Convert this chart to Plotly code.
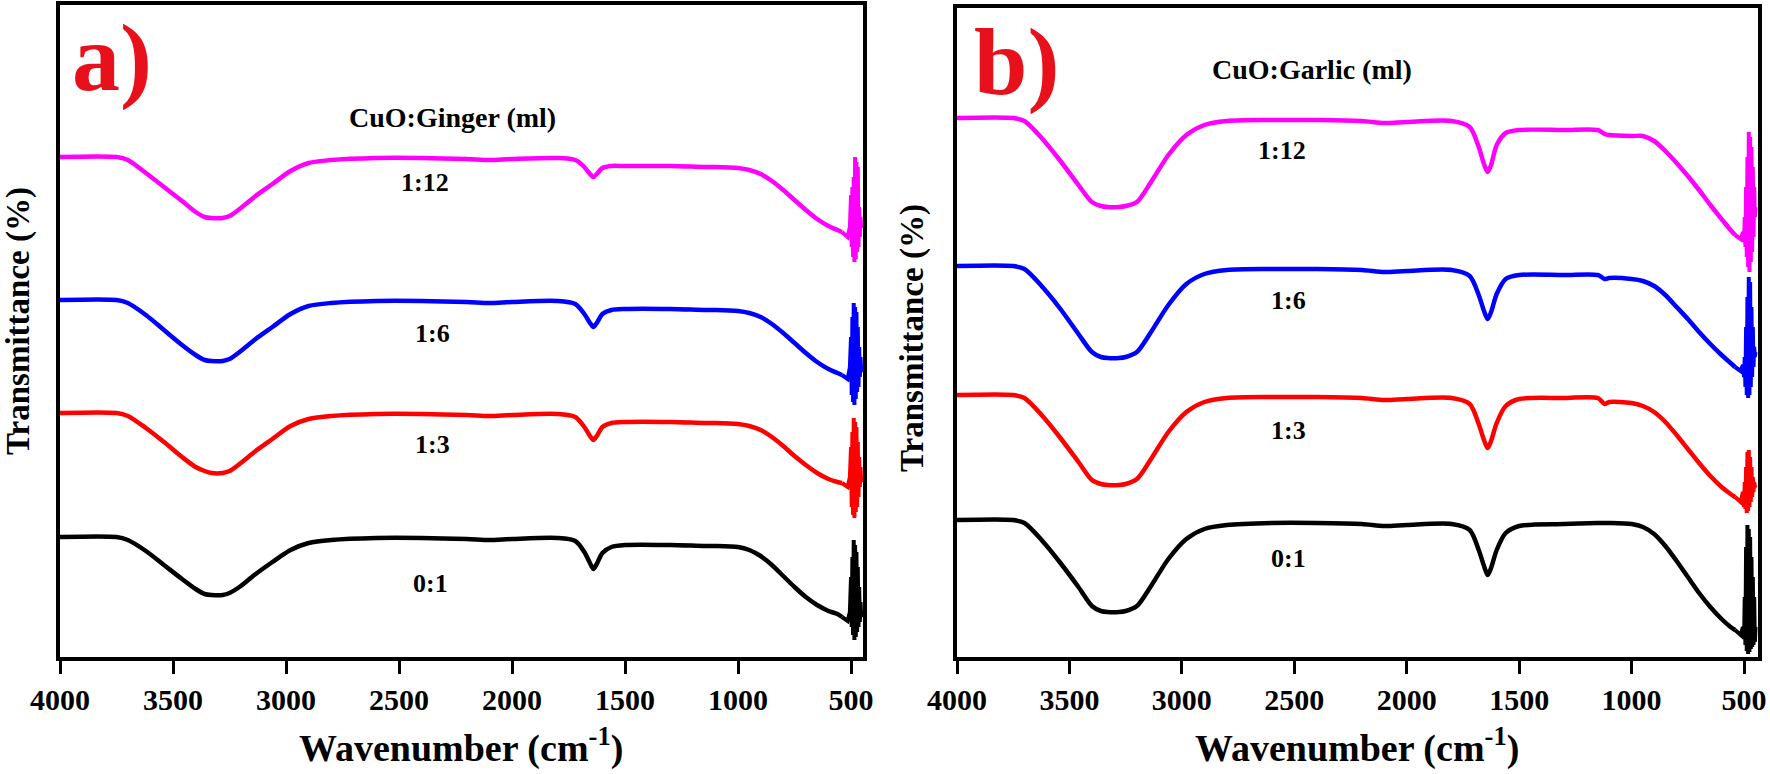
import plotly.graph_objects as go
from plotly.subplots import make_subplots

W, H = 1770, 774

# wavenumber grid (cm-1) used for the smooth part of every spectrum
WAVENUMBER = [4000, 3750, 3700, 3620, 3540, 3460, 3400, 3360, 3330, 3280, 3250, 3200,
              3140, 3060, 2980, 2900, 2800, 2600, 2400, 2200, 2100, 2000, 1800, 1720,
              1680, 1655, 1640, 1625, 1600, 1560, 1500, 1300, 1150, 1120, 1100, 1000,
              950, 900, 850, 800, 750, 700, 650, 600, 560, 540]
# noisy tail near the low-wavenumber end
WAVENUMBER_TAIL = [540, 530, 515, 505, 500, 497, 494, 491, 488, 485, 482, 479, 476, 473,
                   470, 467, 464, 461, 458, 455, 452, 449]

SERIES = ["1:12", "1:6", "1:3", "0:1"]
COLORS = ["#ff00ff", "#0000ff", "#ff0000", "#000000"]

# ---- a) CuO:Ginger (transmittance, arbitrary offset units) ----
GINGER_1_12 = [500, 500, 497, 484, 470, 456, 445, 440, 439, 439, 441, 449, 460, 473, 486,
               494, 497, 499, 499, 498, 497, 498, 499, 497, 490, 483, 480, 483, 489, 491,
               491, 491, 490, 490, 490, 489, 487, 483, 476, 467, 457, 447, 438, 431, 427, 425]
GINGER_1_6 = [357, 357, 354, 342, 327, 312, 302, 297, 296, 296, 298, 306, 317, 330, 343,
              351, 354, 356, 356, 355, 354, 355, 356, 353, 343, 334, 330, 334, 343, 347,
              348, 348, 347, 347, 347, 346, 344, 340, 333, 324, 314, 304, 295, 288, 284, 282]
GINGER_1_3 = [244, 244, 241, 229, 215, 200, 190, 186, 184, 184, 186, 194, 205, 218, 231,
              238, 241, 243, 243, 242, 241, 242, 243, 240, 230, 221, 217, 221, 230, 234,
              235, 235, 234, 234, 234, 233, 231, 227, 220, 211, 201, 192, 184, 178, 175, 174]
GINGER_0_1 = [120, 120, 117, 106, 92, 78, 68, 63, 62, 62, 64, 71, 82, 95, 107,
              114, 117, 119, 119, 118, 117, 118, 119, 116, 105, 94, 88, 93, 104, 110,
              112, 112, 111, 111, 111, 110, 107, 101, 92, 81, 70, 60, 52, 46, 43, 40]
GINGER_TAIL_1_12 = [425, 423, 420, 430, 462, 410, 470, 400, 480, 395, 500, 398, 495, 405,
                    490, 410, 450, 420, 440, 430, 432, 430]
GINGER_TAIL_1_6 = [282, 280, 278, 290, 320, 262, 340, 255, 354, 252, 350, 258, 345, 265,
                   330, 270, 310, 280, 300, 285, 290, 288]
GINGER_TAIL_1_3 = [174, 172, 170, 180, 210, 150, 225, 142, 239, 139, 235, 145, 230, 150,
                   215, 160, 200, 170, 190, 175, 180, 178]
GINGER_TAIL_0_1 = [40, 38, 36, 45, 80, 30, 100, 22, 117, 17, 112, 20, 105, 25,
                   90, 30, 70, 35, 55, 40, 45, 42]

# ---- b) CuO:Garlic ----
GARLIC_1_12 = [539, 539, 536, 518, 496, 472, 455, 451, 450, 450, 451, 455, 474, 502, 522,
               532, 536, 537, 537, 536, 534, 535, 536, 530, 510, 492, 485, 492, 512, 524,
               527, 527, 527, 523, 522, 521, 521, 516, 506, 494, 481, 467, 452, 438, 427, 422]
GARLIC_1_6 = [391, 391, 388, 370, 348, 323, 305, 300, 299, 299, 300, 305, 324, 352, 373,
              383, 387, 388, 388, 387, 385, 386, 387, 381, 362, 345, 338, 345, 363, 378,
              382, 382, 382, 378, 379, 378, 376, 371, 362, 350, 338, 325, 313, 302, 294, 290]
GARLIC_1_3 = [262, 262, 259, 241, 219, 195, 177, 173, 172, 172, 173, 178, 197, 225, 245,
              255, 259, 260, 260, 259, 257, 258, 259, 253, 233, 216, 209, 216, 234, 251,
              258, 259, 259, 253, 255, 254, 251, 245, 235, 222, 208, 194, 181, 170, 163, 160]
GARLIC_0_1 = [137, 137, 134, 116, 94, 70, 51, 46, 45, 45, 46, 51, 70, 98, 118,
              128, 132, 134, 134, 133, 131, 132, 133, 127, 107, 90, 82, 89, 107, 124,
              131, 133, 134, 134, 134, 133, 130, 123, 111, 96, 80, 64, 50, 38, 30, 27]
GARLIC_TAIL_1_12 = [422, 420, 418, 425, 415, 440, 410, 470, 400, 500, 390, 525, 385, 520,
                    395, 510, 405, 490, 420, 470, 440, 450]
GARLIC_TAIL_1_6 = [290, 288, 286, 292, 280, 300, 270, 330, 262, 360, 259, 380, 262, 375,
                   270, 350, 280, 330, 290, 310, 300, 305]
GARLIC_TAIL_1_3 = [160, 158, 155, 165, 150, 175, 148, 190, 144, 205, 146, 207, 150, 200,
                   155, 190, 160, 180, 165, 175, 170, 172]
GARLIC_TAIL_0_1 = [27, 25, 22, 30, 18, 60, 12, 110, 6, 132, 3, 128, 5, 120,
                   8, 100, 10, 80, 12, 60, 15, 30]

GINGER = [GINGER_1_12, GINGER_1_6, GINGER_1_3, GINGER_0_1]
GINGER_TAIL = [GINGER_TAIL_1_12, GINGER_TAIL_1_6, GINGER_TAIL_1_3, GINGER_TAIL_0_1]
GARLIC = [GARLIC_1_12, GARLIC_1_6, GARLIC_1_3, GARLIC_0_1]
GARLIC_TAIL = [GARLIC_TAIL_1_12, GARLIC_TAIL_1_6, GARLIC_TAIL_1_3, GARLIC_TAIL_0_1]

XTICKS = [4000, 3500, 3000, 2500, 2000, 1500, 1000, 500]

FONT = "Liberation Serif"


def px(x, y):
    # pixel position -> paper coordinates
    return x / W, 1 - y / H


def add_spectra(fig, values, tails, col):
    for name, color, ys, tail in zip(SERIES, COLORS, values, tails):
        fig.add_trace(
            go.Scatter(x=WAVENUMBER, y=ys, mode="lines", name=name,
                       line=dict(color=color, width=4.5, shape="spline", smoothing=0.8),
                       showlegend=False),
            row=1, col=col,
        )
        fig.add_trace(
            go.Scatter(x=WAVENUMBER_TAIL, y=tail, mode="lines", name=name,
                       line=dict(color=color, width=4),
                       showlegend=False),
            row=1, col=col,
        )


def text(fig, s, x, y, size, color="black", angle=0):
    xp, yp = px(x, y)
    fig.add_annotation(
        text=s, x=xp, y=yp, xref="paper", yref="paper",
        xanchor="center", yanchor="middle", showarrow=False, textangle=angle,
        font=dict(family=FONT, size=size, color=color, weight="bold"),
    )


fig = make_subplots(rows=1, cols=2)
add_spectra(fig, GINGER, GINGER_TAIL, 1)
add_spectra(fig, GARLIC, GARLIC_TAIL, 2)

axis_common = dict(showline=True, linecolor="black", linewidth=4, mirror=True,
                   showgrid=False, zeroline=False, automargin=False)

fig.update_xaxes(
    **axis_common,
    tickmode="array", tickvals=XTICKS, ticks="outside", ticklen=13, tickwidth=3,
    tickcolor="black",
    tickfont=dict(family=FONT, size=30, color="black", weight="bold"),
)
fig.update_yaxes(**axis_common, showticklabels=False, ticks="")

fig.update_layout(
    width=W, height=H,
    margin=dict(l=0, r=0, t=0, b=0, pad=0, autoexpand=False),
    paper_bgcolor="white", plot_bgcolor="white",
    xaxis=dict(domain=[60 / W, 863 / W], range=[4000, 447]),
    xaxis2=dict(domain=[957 / W, 1758 / W], range=[4000, 438]),
    yaxis=dict(domain=[1 - 657 / H, 1 - 5 / H], range=[0, 652]),
    yaxis2=dict(domain=[1 - 657 / H, 1 - 8 / H], range=[0, 649]),
)

# panel letters and headings
text(fig, "a)", 112, 57, 96, color="#e8101a")
text(fig, "b)", 1016, 62, 96, color="#e8101a")
text(fig, "CuO:Ginger (ml)", 452, 117, 28)
text(fig, "CuO:Garlic (ml)", 1312, 70, 28)

# series labels
for s, (x, y) in zip(SERIES, [(425, 182), (432, 333), (432, 445), (430, 583)]):
    text(fig, s, x, y, 26)
for s, (x, y) in zip(SERIES, [(1282, 150), (1288, 300), (1288, 430), (1288, 558)]):
    text(fig, s, x, y, 26)

# axis titles
text(fig, "Transmittance (%)", 18, 321, 33, angle=-90)
text(fig, "Transmittance (%)", 913, 338, 33, angle=-90)
text(fig, "Wavenumber (cm<sup>-1</sup>)", 461, 745, 38)
text(fig, "Wavenumber (cm<sup>-1</sup>)", 1357, 745, 38)

# the page body has a default 8px margin; drop it so the figure fills the window
fig.write_html("out.html",
               config={"displayModeBar": False},
               post_script="document.body.style.margin='0px';"
                           "document.body.style.overflow='hidden';")
